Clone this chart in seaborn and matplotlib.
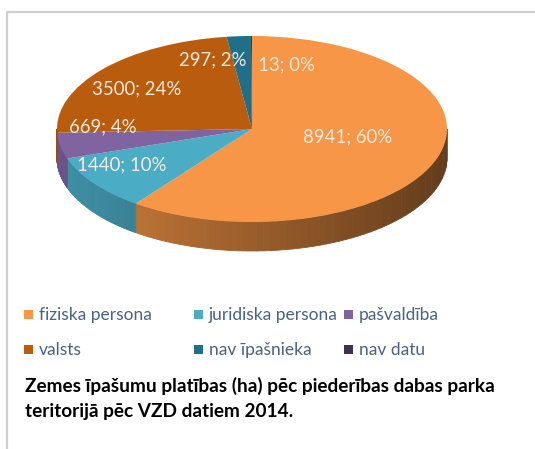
import numpy as np
import matplotlib
matplotlib.use('Agg')
import matplotlib.pyplot as plt
import matplotlib.colors as mcolors
from matplotlib.lines import Line2D
from matplotlib.patches import Polygon
import seaborn as sns

categories = ["fiziska persona", "juridiska persona", "pašvaldība",
              "valsts", "nav īpašnieka", "nav datu"]
values = [8941, 1440, 669, 3500, 297, 13]
labels = ["8941; 60%", "1440; 10%", "669; 4%", "3500; 24%", "297; 2%", "13; 0%"]
caption = ["Zemes īpašumu platības (ha) pēc piederības dabas parka",
           "teritorijā pēc VZD datiem 2014."]

colors = ['#F79646', '#4BACC6', '#8064A2', '#B95C0E', '#1F6F8B', '#403152']

sns.set_theme(style='white')
plt.rcParams['font.family'] = ['Lato', 'DejaVu Sans']

W, H = 535, 449
fig = plt.figure(figsize=(W / 100, H / 100), dpi=100)
ax = fig.add_axes([0, 0, 1, 1])

# pixel geometry of the tilted pie
cx, cy = 252, 449 - 129
rx, ry = 195, 93
thick = 29
sy = rx / ry  # y stretch so a circle in data becomes an ellipse on screen

cyd = cy * sy
tk = thick * sy

fr = np.array(values) / sum(values)
edges = 90 - 360 * np.concatenate([[0], np.cumsum(fr)])

# side walls (front half only)
for i, c in enumerate(colors):
    a0, a1 = edges[i + 1], edges[i]
    for off in (0, -360):
        l2, h2 = max(a0 - off, -180), min(a1 - off, 0)
        if h2 <= l2:
            continue
        n = 60
        th = np.linspace(l2, h2, n + 1)
        base = np.array(mcolors.to_rgb(c))
        for k in range(n):
            t = np.radians(th[k:k + 2])
            xs = cx + rx * np.cos(t)
            ys = cyd + rx * np.sin(t)
            pts = [(xs[0], ys[0]), (xs[1], ys[1]), (xs[1], ys[1] - tk), (xs[0], ys[0] - tk)]
            # shading: lighter on the left, dark on the right
            m = (np.cos(np.radians(th[k])) + 1) / 2
            shade = base * (0.84 - 0.44 * m)
            ax.add_patch(Polygon(pts, closed=True, facecolor=shade, edgecolor=shade, lw=0.6))

wedges, _ = ax.pie(values, colors=colors, startangle=90, counterclock=False,
                   radius=rx, center=(cx, cyd), wedgeprops=dict(linewidth=0))
ax.set_aspect('auto')
ax.set_xlim(0, W)
ax.set_ylim(0, H * sy)
ax.axis('off')

# data labels
lab_pos = [(348, 137), (122, 165), (103, 127), (137, 89), (213, 60), (287, 65)]
for (x, y), t in zip(lab_pos, labels):
    ax.text(x, (H - y) * sy, t, ha='center', va='center', fontsize=13.4,
            color='#F6EBDD')

# legend
sq_x = [24, 194, 344]
leg_y = [315, 350]
for i, (name, c) in enumerate(zip(categories, colors)):
    x = sq_x[i % 3]
    y = leg_y[i // 3]
    fig.patches.append(plt.Rectangle((x / W, (H - y - 4) / H), 9 / W, 9 / H,
                                     facecolor=c, edgecolor='none',
                                     transform=fig.transFigure, figure=fig))
    fig.text((x + 15) / W, (H - y) / H, name, ha='left', va='center',
             fontsize=12.5, color='#4A6283')

for j, line in enumerate(caption):
    fig.text(25 / W, (H - 386 - 25 * j) / H, line, ha='left', va='center',
             fontsize=13.7, fontweight='bold', color='black')

# frame
fig.add_artist(Line2D([7 / W, 7 / W], [0, (H - 12) / H], color='#D0D0D0', lw=1.6,
                      transform=fig.transFigure))
fig.add_artist(Line2D([7 / W, 1], [(H - 12) / H, (H - 12) / H], color='#D0D0D0', lw=1.6,
                      transform=fig.transFigure))

fig.savefig('out.png', dpi=100)
